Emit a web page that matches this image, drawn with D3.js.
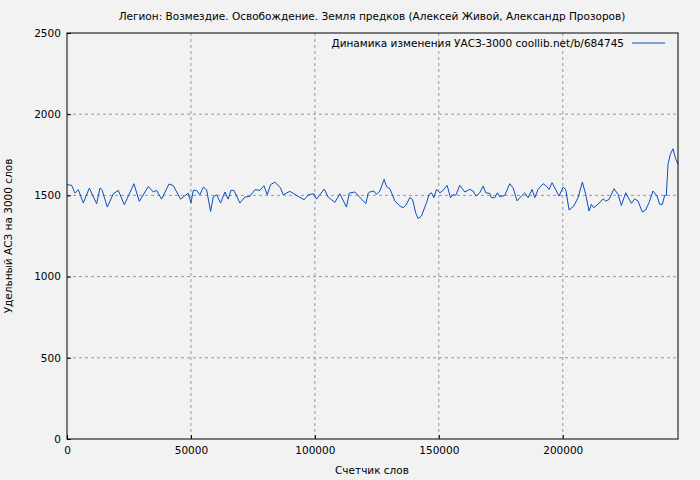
<!DOCTYPE html>
<html><head><meta charset="utf-8">
<script src="https://cdn.jsdelivr.net/npm/d3@7"></script>
<style>body{margin:0;background:#f2f2f2}svg{display:block;font-family:"DejaVu Sans",sans-serif}</style>
</head><body><svg id="c" width="700" height="480"></svg>
<script>
const words=[0,1881,3225,4569,6585,9004,11961,13305,14111,16262,18681,20697,23116,27014,29164,32793,34809,36153,38169,41126,42873,45830,48921,49996,50937,52281,53625,54969,56313,57926,58999,60345,61958,63705,65049,66124,67334,69753,71769,73785,75801,77817,79430,80774,82118,83865,86150,87225,89913,93273,95692,97305,99590,100665,103756,105369,108057,110073,112761,113836,116121,116793,118809,120556,121497,
122170,123783,124858,126202,127949,128890,130234,132250,134266,135610,136685,138298,139373,140717,141658,143002,145018,146093,147034,147975,149050,150394,151469,153351,154695,155770,156845,158458,160474,162490,163834,164909,166522,167866,168941,170554,171226,172570,173645,174586,176602,178618,179962,181575,183322,184666,186010,187623,188698,190042,192058,193402,194477,195687,197434,198509,200122,201197,202541,204423,206170,207917,209261,210605,211546,212487,214906,216250,217325,218669,220685,222298,223642,225389,227674,229018,230362,232109,233453,234797,236410,238023,239098,240173,241114,241786,242458,243399,244474,245549,246490];
const values=[1566,1562,1514,1535,1453,1545,1449,1545,1535,1428,1510,1531,1443,1572,1463,1555,1521,1531,1477,1570,1560,1477,1514,1453,1531,1531,1504,1551,1535,1401,1490,1504,1453,1521,1477,1531,1531,1453,1490,1494,1535,1531,1560,1504,1566,1582,1545,1504,1525,1494,1473,1504,1510,1477,1539,1490,1457,1510,1428,1514,1521,1510,1477,1449,1514,
1521,1527,1506,1527,1599,1554,1542,1466,1435,1424,1439,1486,1476,1390,1357,1373,1455,1506,1516,1486,1537,1516,1527,1562,1486,1506,1500,1562,1521,1537,1527,1496,1516,1557,1516,1512,1486,1486,1516,1492,1500,1572,1547,1466,1496,1516,1486,1537,1486,1537,1572,1557,1537,1578,1527,1496,1551,1537,1410,1434,1486,1582,1506,1404,1445,1424,1455,1479,1465,1475,1541,1506,1438,1516,1451,1479,1465,1397,1410,1455,1527,1496,1445,1445,1500,1500,1691,1753,1787,1726,1691];
const xTicks=[0,50000,100000,150000,200000];
const yTicks=[0,500,1000,1500,2000,2500];
const title="Легион: Возмездие. Освобождение. Земля предков (Алексей Живой, Александр Прозоров)";
const legend="Динамика изменения УАСЗ-3000 coollib.net/b/684745";

const svg=d3.select("#c");
const L=67,R=678,T=33,B=439;
const x=d3.scaleLinear().domain([0,246490]).range([L,R]);
const y=d3.scaleLinear().domain([0,2500]).range([B,T]);
svg.append("rect").attr("width",700).attr("height",480).attr("fill","#f2f2f2");
const g=svg.append("g");
xTicks.slice(1).forEach(t=>g.append("line").attr("x1",x(t)).attr("x2",x(t)).attr("y1",T).attr("y2",B).attr("stroke","#999").attr("stroke-dasharray","3,3"));
yTicks.slice(1,-1).forEach(t=>g.append("line").attr("x1",L).attr("x2",R).attr("y1",y(t)).attr("y2",y(t)).attr("stroke","#999").attr("stroke-dasharray","3,3"));
svg.append("path").datum(words.map((w,i)=>[w,values[i]])).attr("fill","none").attr("stroke","#0a4fbf").attr("stroke-width",1)
 .attr("d",d3.line().x(d=>x(d[0])).y(d=>y(d[1])));
svg.append("rect").attr("x",L).attr("y",T).attr("width",R-L).attr("height",B-T).attr("fill","none").attr("stroke","#000");
const ax=svg.append("g").attr("transform",`translate(0,${B})`).call(d3.axisBottom(x).tickValues(xTicks).tickSize(-4).tickFormat(d3.format("d")));
const ay=svg.append("g").attr("transform",`translate(${L},0)`).call(d3.axisLeft(y).tickValues(yTicks).tickSize(-4).tickFormat(d3.format("d")));
[ax,ay].forEach(a=>{a.select(".domain").remove();a.selectAll("text").attr("font-size",10.5).attr("font-family","DejaVu Sans").attr("fill","#000");});
ax.selectAll("text").attr("dy","1.1em");
ay.selectAll("text").attr("dx","-0.3em");
svg.append("text").attr("x",372).attr("y",20).attr("text-anchor","middle").attr("font-size",10.5).text(title);
svg.append("text").attr("x",372).attr("y",474).attr("text-anchor","middle").attr("font-size",10.5).text("Счетчик слов");
svg.append("text").attr("transform","translate(12,236) rotate(-90)").attr("text-anchor","middle").attr("font-size",10.5).text("Удельный АСЗ на 3000 слов");
svg.append("text").attr("x",624).attr("y",47).attr("text-anchor","end").attr("font-size",10.5).text(legend);
svg.append("line").attr("x1",632).attr("x2",665).attr("y1",43).attr("y2",43).attr("stroke","#0a4fbf");
</script></body></html>
